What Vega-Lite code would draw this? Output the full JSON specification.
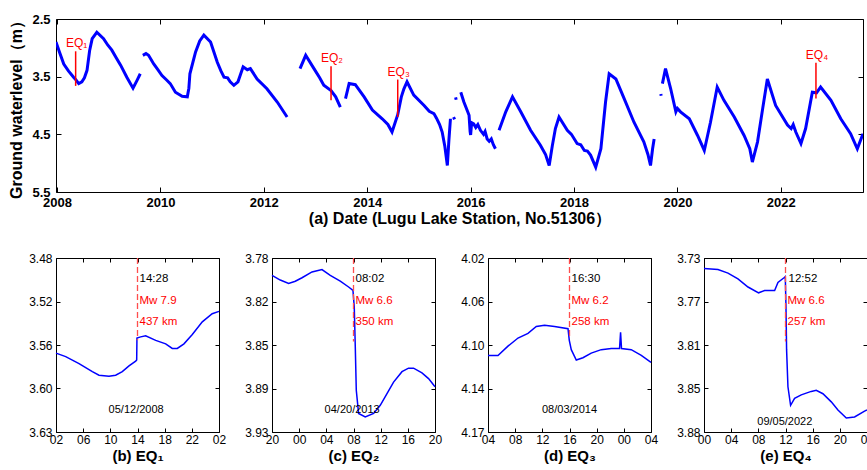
{
  "$schema": "https://vega.github.io/schema/vega-lite/v6.json",
  "padding": {"left": 6, "top": 12, "right": 1, "bottom": 0},
  "config": {
    "font": "Liberation Sans",
    "view": {"stroke": "black", "strokeWidth": 1},
    "axis": {"domain": false, "grid": false, "tickColor": "black", "labelColor": "black", "titleColor": "black", "labelFlush": false, "labelOverlap": false}
  },
  "datasets": {
    "main": [
      {"t":2007.98,"lev":2.90,"seg":1},{"t":2008.05,"lev":3.08,"seg":1},{"t":2008.13,"lev":3.28,"seg":1},{"t":2008.22,"lev":3.40,"seg":1},{"t":2008.32,"lev":3.51,"seg":1},{"t":2008.36,"lev":3.55,"seg":1},{"t":2008.42,"lev":3.62,"seg":1},{"t":2008.48,"lev":3.59,"seg":1},{"t":2008.53,"lev":3.52,"seg":1},{"t":2008.58,"lev":3.39,"seg":1},{"t":2008.63,"lev":3.05,"seg":1},{"t":2008.68,"lev":2.84,"seg":1},{"t":2008.77,"lev":2.73,"seg":1},{"t":2008.90,"lev":2.84,"seg":1},{"t":2008.98,"lev":2.95,"seg":1},{"t":2009.06,"lev":3.04,"seg":1},{"t":2009.15,"lev":3.18,"seg":1},{"t":2009.23,"lev":3.30,"seg":1},{"t":2009.35,"lev":3.51,"seg":1},{"t":2009.47,"lev":3.70,"seg":1},{"t":2009.55,"lev":3.56,"seg":1},{"t":2009.61,"lev":3.45,"seg":1},
      {"t":2009.66,"lev":3.13,"seg":2},{"t":2009.72,"lev":3.10,"seg":2},{"t":2009.77,"lev":3.13,"seg":2},{"t":2009.87,"lev":3.28,"seg":2},{"t":2009.95,"lev":3.38,"seg":2},{"t":2010.03,"lev":3.48,"seg":2},{"t":2010.11,"lev":3.55,"seg":2},{"t":2010.19,"lev":3.62,"seg":2},{"t":2010.29,"lev":3.77,"seg":2},{"t":2010.42,"lev":3.84,"seg":2},{"t":2010.52,"lev":3.85,"seg":2},{"t":2010.55,"lev":3.70,"seg":2},{"t":2010.57,"lev":3.45,"seg":2},{"t":2010.68,"lev":3.07,"seg":2},{"t":2010.76,"lev":2.88,"seg":2},{"t":2010.84,"lev":2.78,"seg":2},{"t":2010.97,"lev":2.90,"seg":2},{"t":2011.10,"lev":3.25,"seg":2},{"t":2011.17,"lev":3.40,"seg":2},{"t":2011.23,"lev":3.51,"seg":2},{"t":2011.30,"lev":3.52,"seg":2},{"t":2011.35,"lev":3.59,"seg":2},{"t":2011.42,"lev":3.65,"seg":2},{"t":2011.50,"lev":3.59,"seg":2},{"t":2011.60,"lev":3.33,"seg":2},{"t":2011.68,"lev":3.38,"seg":2},{"t":2011.74,"lev":3.36,"seg":2},{"t":2011.87,"lev":3.54,"seg":2},{"t":2012.06,"lev":3.71,"seg":2},{"t":2012.26,"lev":3.94,"seg":2},{"t":2012.45,"lev":4.20,"seg":2},
      {"t":2012.70,"lev":3.36,"seg":3},{"t":2012.81,"lev":3.13,"seg":3},{"t":2012.97,"lev":3.36,"seg":3},{"t":2013.08,"lev":3.52,"seg":3},{"t":2013.16,"lev":3.65,"seg":3},{"t":2013.30,"lev":3.74,"seg":3},{"t":2013.39,"lev":3.85,"seg":3},{"t":2013.48,"lev":4.03,"seg":3},
      {"t":2013.58,"lev":3.88,"seg":4},{"t":2013.65,"lev":3.62,"seg":4},{"t":2013.77,"lev":3.64,"seg":4},{"t":2013.94,"lev":3.85,"seg":4},{"t":2014.10,"lev":4.08,"seg":4},{"t":2014.29,"lev":4.23,"seg":4},{"t":2014.40,"lev":4.33,"seg":4},{"t":2014.48,"lev":4.46,"seg":4},{"t":2014.59,"lev":4.16,"seg":4},{"t":2014.66,"lev":3.85,"seg":4},{"t":2014.71,"lev":3.71,"seg":4},{"t":2014.77,"lev":3.59,"seg":4},{"t":2014.90,"lev":3.82,"seg":4},{"t":2015.10,"lev":4.00,"seg":4},{"t":2015.20,"lev":4.10,"seg":4},{"t":2015.29,"lev":4.14,"seg":4},{"t":2015.34,"lev":4.22,"seg":4},{"t":2015.40,"lev":4.33,"seg":4},{"t":2015.45,"lev":4.46,"seg":4},{"t":2015.50,"lev":4.70,"seg":4},{"t":2015.55,"lev":5.04,"seg":4},{"t":2015.58,"lev":4.60,"seg":4},{"t":2015.61,"lev":4.23,"seg":4},
      {"t":2015.67,"lev":4.20,"seg":5},{"t":2015.69,"lev":4.24,"seg":5},
      {"t":2015.71,"lev":3.86,"seg":6},{"t":2015.72,"lev":3.90,"seg":6},
      {"t":2015.81,"lev":3.77,"seg":7},{"t":2015.87,"lev":3.94,"seg":7},{"t":2015.94,"lev":4.10,"seg":7},{"t":2015.97,"lev":4.17,"seg":7},{"t":2015.99,"lev":4.45,"seg":7},{"t":2016.00,"lev":4.51,"seg":7},{"t":2016.02,"lev":4.30,"seg":7},{"t":2016.06,"lev":4.32,"seg":7},{"t":2016.10,"lev":4.38,"seg":7},{"t":2016.14,"lev":4.33,"seg":7},{"t":2016.19,"lev":4.43,"seg":7},{"t":2016.25,"lev":4.50,"seg":7},{"t":2016.28,"lev":4.45,"seg":7},{"t":2016.32,"lev":4.58,"seg":7},{"t":2016.36,"lev":4.62,"seg":7},{"t":2016.40,"lev":4.58,"seg":7},{"t":2016.44,"lev":4.68,"seg":7},{"t":2016.48,"lev":4.75,"seg":7},
      {"t":2016.55,"lev":4.43,"seg":8},{"t":2016.68,"lev":4.11,"seg":8},{"t":2016.81,"lev":3.85,"seg":8},{"t":2016.97,"lev":4.11,"seg":8},{"t":2017.16,"lev":4.43,"seg":8},{"t":2017.35,"lev":4.69,"seg":8},{"t":2017.45,"lev":4.85,"seg":8},{"t":2017.52,"lev":5.04,"seg":8},{"t":2017.58,"lev":4.70,"seg":8},{"t":2017.64,"lev":4.40,"seg":8},{"t":2017.71,"lev":4.20,"seg":8},{"t":2017.87,"lev":4.43,"seg":8},{"t":2017.95,"lev":4.50,"seg":8},{"t":2018.06,"lev":4.66,"seg":8},{"t":2018.13,"lev":4.68,"seg":8},{"t":2018.20,"lev":4.78,"seg":8},{"t":2018.26,"lev":4.79,"seg":8},{"t":2018.32,"lev":4.86,"seg":8},{"t":2018.42,"lev":5.07,"seg":8},{"t":2018.52,"lev":4.75,"seg":8},{"t":2018.61,"lev":3.94,"seg":8},{"t":2018.68,"lev":3.45,"seg":8},{"t":2018.81,"lev":3.54,"seg":8},{"t":2018.97,"lev":3.88,"seg":8},{"t":2019.16,"lev":4.29,"seg":8},{"t":2019.35,"lev":4.63,"seg":8},{"t":2019.43,"lev":4.85,"seg":8},{"t":2019.48,"lev":5.04,"seg":8},{"t":2019.52,"lev":4.75,"seg":8},{"t":2019.55,"lev":4.58,"seg":8},
      {"t":2019.68,"lev":3.80,"seg":9},{"t":2019.685,"lev":3.83,"seg":9},
      {"t":2019.71,"lev":3.62,"seg":10},{"t":2019.77,"lev":3.36,"seg":10},{"t":2019.87,"lev":3.71,"seg":10},{"t":2019.97,"lev":4.11,"seg":10},{"t":2020.00,"lev":4.05,"seg":10},{"t":2020.06,"lev":4.11,"seg":10},{"t":2020.23,"lev":4.23,"seg":10},{"t":2020.39,"lev":4.52,"seg":10},{"t":2020.52,"lev":4.78,"seg":10},{"t":2020.64,"lev":4.29,"seg":10},{"t":2020.77,"lev":3.68,"seg":10},{"t":2020.90,"lev":3.91,"seg":10},{"t":2021.10,"lev":4.20,"seg":10},{"t":2021.29,"lev":4.52,"seg":10},{"t":2021.40,"lev":4.75,"seg":10},{"t":2021.45,"lev":4.98,"seg":10},{"t":2021.55,"lev":4.63,"seg":10},{"t":2021.65,"lev":4.05,"seg":10},{"t":2021.74,"lev":3.54,"seg":10},{"t":2021.90,"lev":4.00,"seg":10},{"t":2022.13,"lev":4.34,"seg":10},{"t":2022.20,"lev":4.40,"seg":10},{"t":2022.24,"lev":4.33,"seg":10},{"t":2022.29,"lev":4.46,"seg":10},{"t":2022.39,"lev":4.66,"seg":10},{"t":2022.48,"lev":4.40,"seg":10},{"t":2022.61,"lev":3.77,"seg":10},{"t":2022.69,"lev":3.78,"seg":10},{"t":2022.77,"lev":3.68,"seg":10},{"t":2022.97,"lev":3.91,"seg":10},{"t":2023.16,"lev":4.23,"seg":10},{"t":2023.35,"lev":4.49,"seg":10},{"t":2023.48,"lev":4.75,"seg":10},{"t":2023.59,"lev":4.49,"seg":10}
    ],
    "eqTop": [
      {"t":2008.36,"top":3.06,"bot":3.66,"lab":"EQ₁"},
      {"t":2013.30,"top":3.32,"bot":3.91,"lab":"EQ₂"},
      {"t":2014.59,"top":3.55,"bot":4.20,"lab":"EQ₃"},
      {"t":2022.68,"top":3.26,"bot":3.88,"lab":"EQ₄"}
    ],
    "zoom": [
      {"p":"b","h":0,"v":3.562},{"p":"b","h":1.43,"v":3.565},{"p":"b","h":3.39,"v":3.571},{"p":"b","h":5.35,"v":3.578},{"p":"b","h":6.33,"v":3.581},{"p":"b","h":7.8,"v":3.582},{"p":"b","h":8.78,"v":3.581},{"p":"b","h":9.76,"v":3.578},{"p":"b","h":10.75,"v":3.573},{"p":"b","h":11.73,"v":3.569},{"p":"b","h":11.88,"v":3.568},{"p":"b","h":11.92,"v":3.549},{"p":"b","h":12.47,"v":3.548},{"p":"b","h":13.2,"v":3.547},{"p":"b","h":14.68,"v":3.551},{"p":"b","h":16.15,"v":3.554},{"p":"b","h":17.12,"v":3.558},{"p":"b","h":17.86,"v":3.558},{"p":"b","h":18.84,"v":3.554},{"p":"b","h":20.07,"v":3.546},{"p":"b","h":21.54,"v":3.535},{"p":"b","h":23.0,"v":3.528},{"p":"b","h":24,"v":3.526},
      {"p":"c","h":0,"v":3.795},{"p":"c","h":1.22,"v":3.799},{"p":"c","h":2.45,"v":3.802},{"p":"c","h":3.43,"v":3.8},{"p":"c","h":4.42,"v":3.797},{"p":"c","h":5.89,"v":3.792},{"p":"c","h":7.36,"v":3.79},{"p":"c","h":8.58,"v":3.795},{"p":"c","h":10.05,"v":3.8},{"p":"c","h":11.28,"v":3.805},{"p":"c","h":11.92,"v":3.808},{"p":"c","h":12.11,"v":3.822},{"p":"c","h":12.26,"v":3.856},{"p":"c","h":12.41,"v":3.894},{"p":"c","h":12.75,"v":3.914},{"p":"c","h":13.73,"v":3.917},{"p":"c","h":14.96,"v":3.914},{"p":"c","h":15.94,"v":3.907},{"p":"c","h":16.93,"v":3.897},{"p":"c","h":17.9,"v":3.887},{"p":"c","h":19.14,"v":3.878},{"p":"c","h":20.1,"v":3.875},{"p":"c","h":20.84,"v":3.875},{"p":"c","h":22.08,"v":3.879},{"p":"c","h":23.05,"v":3.884},{"p":"c","h":24,"v":3.891},
      {"p":"d","h":0,"v":4.104},{"p":"d","h":1.47,"v":4.104},{"p":"d","h":2.94,"v":4.096},{"p":"d","h":4.42,"v":4.089},{"p":"d","h":5.89,"v":4.085},{"p":"d","h":7.11,"v":4.079},{"p":"d","h":8.33,"v":4.078},{"p":"d","h":9.8,"v":4.079},{"p":"d","h":11.78,"v":4.081},{"p":"d","h":11.97,"v":4.091},{"p":"d","h":12.26,"v":4.099},{"p":"d","h":13.0,"v":4.108},{"p":"d","h":13.98,"v":4.106},{"p":"d","h":15.2,"v":4.102},{"p":"d","h":16.67,"v":4.099},{"p":"d","h":18.15,"v":4.098},{"p":"d","h":19.37,"v":4.098},{"p":"d","h":19.52,"v":4.084},{"p":"d","h":19.66,"v":4.098},{"p":"d","h":21.09,"v":4.099},{"p":"d","h":22.57,"v":4.104},{"p":"d","h":24,"v":4.11},
      {"p":"e","h":0,"v":3.739},{"p":"e","h":2.06,"v":3.74},{"p":"e","h":3.53,"v":3.743},{"p":"e","h":5.0,"v":3.748},{"p":"e","h":6.48,"v":3.755},{"p":"e","h":8.04,"v":3.76},{"p":"e","h":8.92,"v":3.758},{"p":"e","h":10.4,"v":3.758},{"p":"e","h":10.89,"v":3.751},{"p":"e","h":11.78,"v":3.747},{"p":"e","h":11.97,"v":3.746},{"p":"e","h":12.07,"v":3.772},{"p":"e","h":12.16,"v":3.809},{"p":"e","h":12.36,"v":3.841},{"p":"e","h":12.75,"v":3.857},{"p":"e","h":13.34,"v":3.851},{"p":"e","h":14.32,"v":3.848},{"p":"e","h":15.79,"v":3.845},{"p":"e","h":16.53,"v":3.844},{"p":"e","h":17.51,"v":3.847},{"p":"e","h":18.74,"v":3.854},{"p":"e","h":19.72,"v":3.861},{"p":"e","h":20.95,"v":3.868},{"p":"e","h":22.17,"v":3.867},{"p":"e","h":23.64,"v":3.862},{"p":"e","h":24,"v":3.861}
    ],
    "dash": [
      {"p":"b","h":12,"v1":3.48,"v2":3.551},
      {"p":"c","h":12,"v1":3.78,"v2":3.852},
      {"p":"d","h":12,"v1":4.02,"v2":4.088},
      {"p":"e","h":12,"v1":3.73,"v2":3.802}
    ],
    "ann": [
      {"p":"b","kind":"time","h":12.3,"v":3.498,"txt":"14:28"},
      {"p":"b","kind":"mag","h":12.3,"v":3.517,"txt":"Mw 7.9"},
      {"p":"b","kind":"dist","h":12.3,"v":3.535,"txt":"437 km"},
      {"p":"c","kind":"time","h":12.3,"v":3.798,"txt":"08:02"},
      {"p":"c","kind":"mag","h":12.3,"v":3.817,"txt":"Mw 6.6"},
      {"p":"c","kind":"dist","h":12.3,"v":3.835,"txt":"350 km"},
      {"p":"d","kind":"time","h":12.3,"v":4.038,"txt":"16:30"},
      {"p":"d","kind":"mag","h":12.3,"v":4.057,"txt":"Mw 6.2"},
      {"p":"d","kind":"dist","h":12.3,"v":4.075,"txt":"258 km"},
      {"p":"e","kind":"time","h":12.45,"v":3.748,"txt":"12:52"},
      {"p":"e","kind":"mag","h":12.3,"v":3.767,"txt":"Mw 6.6"},
      {"p":"e","kind":"dist","h":12.3,"v":3.785,"txt":"257 km"}
    ],
    "dates": [
      {"p":"b","h":11.8,"v":3.611,"txt":"05/12/2008"},
      {"p":"c","h":11.8,"v":3.911,"txt":"04/20/2013"},
      {"p":"d","h":12.0,"v":4.151,"txt":"08/03/2014"},
      {"p":"e","h":11.9,"v":3.871,"txt":"09/05/2022"}
    ]
  },
  "vconcat": [
    {
      "width": 807,
      "height": 173,
      "layer": [
        {
          "data": {"name": "main"},
          "mark": {"type": "line", "color": "#0000ff", "strokeWidth": 3, "clip": true},
          "encoding": {
            "x": {"field": "t", "type": "quantitative", "scale": {"domain": [2007.98, 2023.59], "nice": false, "zero": false},
                  "axis": {"orient": "bottom", "values": [2008,2010,2012,2014,2016,2018,2020,2022], "format": "d", "tickSize": -5, "labelPadding": 9, "labelFontSize": 13, "labelFontWeight": "bold", "title": "(a) Date (Lugu Lake Station, No.51306）", "titleFontSize": 16, "titleFontWeight": "bold", "titlePadding": 1}},
            "y": {"field": "lev", "type": "quantitative", "scale": {"domain": [2.5, 5.5], "reverse": true, "nice": false, "zero": false},
                  "axis": {"orient": "left", "values": [2.5,3.5,4.5,5.5], "format": ".1f", "tickSize": -5, "labelPadding": 11, "labelFontSize": 13, "labelFontWeight": "bold", "title": "Ground waterlevel（m）", "titleFontSize": 16, "titleFontWeight": "bold", "titlePadding": 7}},
            "detail": {"field": "seg", "type": "nominal"}
          }
        },
        {
          "data": {"name": "eqTop"},
          "mark": {"type": "rule", "color": "#ff0000", "strokeWidth": 1.5},
          "encoding": {
            "x": {"field": "t", "type": "quantitative", "axis": {"orient": "top", "values": [2008,2010,2012,2014,2016,2018,2020,2022], "labels": false, "tickSize": -5, "title": null}},
            "y": {"field": "top", "type": "quantitative", "axis": {"orient": "right", "values": [2.5,3.5,4.5,5.5], "labels": false, "tickSize": -5, "title": null}},
            "y2": {"field": "bot"}
          }
        },
        {
          "data": {"name": "eqTop"},
          "mark": {"type": "text", "color": "#ff0000", "fontSize": 12, "baseline": "bottom", "align": "center", "dy": -1, "dx": 1},
          "encoding": {
            "x": {"field": "t", "type": "quantitative", "axis": null},
            "y": {"field": "top", "type": "quantitative", "axis": null},
            "text": {"field": "lab"}
          }
        }
      ],
      "resolve": {"axis": {"x": "independent", "y": "independent"}}
    },
    {
      "spacing": 17,
      "hconcat": [
        {
          "width": 163, "height": 174,
          "layer": [
            {"data": {"name": "zoom"}, "transform": [{"filter": "datum.p === 'b'"}],
             "mark": {"type": "line", "color": "#0000ff", "strokeWidth": 1.5},
             "encoding": {
               "x": {"field": "h", "type": "quantitative", "scale": {"domain": [0, 24], "nice": false},
                     "axis": {"orient": "bottom", "values": [0,4,8,12,16,20,24], "labelExpr": "((datum.value+2)%24 < 10 ? '0' : '') + ((datum.value+2)%24)", "tickSize": -4, "labelPadding": 6, "labelFontSize": 12, "title": "(b) EQ₁", "titleFontSize": 15, "titleFontWeight": "bold", "titlePadding": 3}},
               "y": {"field": "v", "type": "quantitative", "scale": {"domain": [3.48, 3.63], "reverse": true, "nice": false, "zero": false},
                     "axis": {"orient": "left", "values": [3.48, 3.5175, 3.555, 3.5925, 3.63], "labelExpr": "datum.value < 3.5 ? '3.48' : datum.value < 3.53 ? '3.52' : datum.value < 3.57 ? '3.56' : datum.value < 3.61 ? '3.60' : '3.63'", "tickSize": -4, "labelPadding": 8, "labelFontSize": 12, "title": ".", "titleColor": "transparent", "titleFontSize": 10, "titlePadding": 12}}
             }},
            {"data": {"name": "dash"}, "transform": [{"filter": "datum.p === 'b'"}],
             "mark": {"type": "rule", "color": "#ff4d4d", "strokeDash": [6, 3], "strokeWidth": 1.3},
             "encoding": {
               "x": {"field": "h", "type": "quantitative", "axis": {"orient": "top", "values": [0,4,8,12,16,20,24], "labels": false, "tickSize": -4, "title": null}},
               "y": {"field": "v1", "type": "quantitative", "axis": {"orient": "right", "values": [3.48, 3.5175, 3.555, 3.5925, 3.63], "labels": false, "tickSize": -4, "title": null}},
               "y2": {"field": "v2"}
             }},
            {"data": {"name": "ann"}, "transform": [{"filter": "datum.p === 'b'"}],
             "mark": {"type": "text", "align": "left", "baseline": "middle", "fontSize": 11.5},
             "encoding": {
               "x": {"field": "h", "type": "quantitative", "axis": null},
               "y": {"field": "v", "type": "quantitative", "axis": null},
               "text": {"field": "txt"},
               "color": {"field": "kind", "type": "nominal", "scale": {"domain": ["time", "mag", "dist"], "range": ["#000000", "#ff0000", "#ff0000"]}, "legend": null}
             }},
            {"data": {"name": "dates"}, "transform": [{"filter": "datum.p === 'b'"}],
             "mark": {"type": "text", "align": "center", "baseline": "middle", "fontSize": 11, "color": "black"},
             "encoding": {
               "x": {"field": "h", "type": "quantitative", "axis": null},
               "y": {"field": "v", "type": "quantitative", "axis": null},
               "text": {"field": "txt"}
             }}
          ],
          "resolve": {"axis": {"x": "independent", "y": "independent"}}
        },
        {
          "width": 163, "height": 174,
          "layer": [
            {"data": {"name": "zoom"}, "transform": [{"filter": "datum.p === 'c'"}],
             "mark": {"type": "line", "color": "#0000ff", "strokeWidth": 1.5},
             "encoding": {
               "x": {"field": "h", "type": "quantitative", "scale": {"domain": [0, 24], "nice": false},
                     "axis": {"orient": "bottom", "values": [0,4,8,12,16,20,24], "labelExpr": "((datum.value+20)%24 < 10 ? '0' : '') + ((datum.value+20)%24)", "tickSize": -4, "labelPadding": 6, "labelFontSize": 12, "title": "(c) EQ₂", "titleFontSize": 15, "titleFontWeight": "bold", "titlePadding": 3}},
               "y": {"field": "v", "type": "quantitative", "scale": {"domain": [3.78, 3.93], "reverse": true, "nice": false, "zero": false},
                     "axis": {"orient": "left", "values": [3.78, 3.8175, 3.855, 3.8925, 3.93], "labelExpr": "datum.value < 3.8 ? '3.78' : datum.value < 3.83 ? '3.82' : datum.value < 3.87 ? '3.85' : datum.value < 3.91 ? '3.89' : '3.93'", "tickSize": -4, "labelPadding": 8, "labelFontSize": 12, "title": null}}
             }},
            {"data": {"name": "dash"}, "transform": [{"filter": "datum.p === 'c'"}],
             "mark": {"type": "rule", "color": "#ff4d4d", "strokeDash": [6, 3], "strokeWidth": 1.3},
             "encoding": {
               "x": {"field": "h", "type": "quantitative", "axis": {"orient": "top", "values": [0,4,8,12,16,20,24], "labels": false, "tickSize": -4, "title": null}},
               "y": {"field": "v1", "type": "quantitative", "axis": {"orient": "right", "values": [3.78, 3.8175, 3.855, 3.8925, 3.93], "labels": false, "tickSize": -4, "title": null}},
               "y2": {"field": "v2"}
             }},
            {"data": {"name": "ann"}, "transform": [{"filter": "datum.p === 'c'"}],
             "mark": {"type": "text", "align": "left", "baseline": "middle", "fontSize": 11.5},
             "encoding": {
               "x": {"field": "h", "type": "quantitative", "axis": null},
               "y": {"field": "v", "type": "quantitative", "axis": null},
               "text": {"field": "txt"},
               "color": {"field": "kind", "type": "nominal", "scale": {"domain": ["time", "mag", "dist"], "range": ["#000000", "#ff0000", "#ff0000"]}, "legend": null}
             }},
            {"data": {"name": "dates"}, "transform": [{"filter": "datum.p === 'c'"}],
             "mark": {"type": "text", "align": "center", "baseline": "middle", "fontSize": 11, "color": "black"},
             "encoding": {
               "x": {"field": "h", "type": "quantitative", "axis": null},
               "y": {"field": "v", "type": "quantitative", "axis": null},
               "text": {"field": "txt"}
             }}
          ],
          "resolve": {"axis": {"x": "independent", "y": "independent"}}
        },
        {
          "width": 163, "height": 174,
          "layer": [
            {"data": {"name": "zoom"}, "transform": [{"filter": "datum.p === 'd'"}],
             "mark": {"type": "line", "color": "#0000ff", "strokeWidth": 1.5},
             "encoding": {
               "x": {"field": "h", "type": "quantitative", "scale": {"domain": [0, 24], "nice": false},
                     "axis": {"orient": "bottom", "values": [0,4,8,12,16,20,24], "labelExpr": "((datum.value+4)%24 < 10 ? '0' : '') + ((datum.value+4)%24)", "tickSize": -4, "labelPadding": 6, "labelFontSize": 12, "title": "(d) EQ₃", "titleFontSize": 15, "titleFontWeight": "bold", "titlePadding": 3}},
               "y": {"field": "v", "type": "quantitative", "scale": {"domain": [4.02, 4.17], "reverse": true, "nice": false, "zero": false},
                     "axis": {"orient": "left", "values": [4.02, 4.0575, 4.095, 4.1325, 4.17], "labelExpr": "datum.value < 4.04 ? '4.02' : datum.value < 4.07 ? '4.06' : datum.value < 4.11 ? '4.10' : datum.value < 4.15 ? '4.14' : '4.17'", "tickSize": -4, "labelPadding": 8, "labelFontSize": 12, "title": null}}
             }},
            {"data": {"name": "dash"}, "transform": [{"filter": "datum.p === 'd'"}],
             "mark": {"type": "rule", "color": "#ff4d4d", "strokeDash": [6, 3], "strokeWidth": 1.3},
             "encoding": {
               "x": {"field": "h", "type": "quantitative", "axis": {"orient": "top", "values": [0,4,8,12,16,20,24], "labels": false, "tickSize": -4, "title": null}},
               "y": {"field": "v1", "type": "quantitative", "axis": {"orient": "right", "values": [4.02, 4.0575, 4.095, 4.1325, 4.17], "labels": false, "tickSize": -4, "title": null}},
               "y2": {"field": "v2"}
             }},
            {"data": {"name": "ann"}, "transform": [{"filter": "datum.p === 'd'"}],
             "mark": {"type": "text", "align": "left", "baseline": "middle", "fontSize": 11.5},
             "encoding": {
               "x": {"field": "h", "type": "quantitative", "axis": null},
               "y": {"field": "v", "type": "quantitative", "axis": null},
               "text": {"field": "txt"},
               "color": {"field": "kind", "type": "nominal", "scale": {"domain": ["time", "mag", "dist"], "range": ["#000000", "#ff0000", "#ff0000"]}, "legend": null}
             }},
            {"data": {"name": "dates"}, "transform": [{"filter": "datum.p === 'd'"}],
             "mark": {"type": "text", "align": "center", "baseline": "middle", "fontSize": 11, "color": "black"},
             "encoding": {
               "x": {"field": "h", "type": "quantitative", "axis": null},
               "y": {"field": "v", "type": "quantitative", "axis": null},
               "text": {"field": "txt"}
             }}
          ],
          "resolve": {"axis": {"x": "independent", "y": "independent"}}
        },
        {
          "width": 163, "height": 174,
          "layer": [
            {"data": {"name": "zoom"}, "transform": [{"filter": "datum.p === 'e'"}],
             "mark": {"type": "line", "color": "#0000ff", "strokeWidth": 1.5},
             "encoding": {
               "x": {"field": "h", "type": "quantitative", "scale": {"domain": [0, 24], "nice": false},
                     "axis": {"orient": "bottom", "values": [0,4,8,12,16,20,24], "labelExpr": "(datum.value%24 < 10 ? '0' : '') + (datum.value%24)", "tickSize": -4, "labelPadding": 6, "labelFontSize": 12, "title": "(e) EQ₄", "titleFontSize": 15, "titleFontWeight": "bold", "titlePadding": 3}},
               "y": {"field": "v", "type": "quantitative", "scale": {"domain": [3.73, 3.88], "reverse": true, "nice": false, "zero": false},
                     "axis": {"orient": "left", "values": [3.73, 3.7675, 3.805, 3.8425, 3.88], "labelExpr": "datum.value < 3.75 ? '3.73' : datum.value < 3.78 ? '3.77' : datum.value < 3.82 ? '3.81' : datum.value < 3.86 ? '3.85' : '3.88'", "tickSize": -4, "labelPadding": 8, "labelFontSize": 12, "title": null}}
             }},
            {"data": {"name": "dash"}, "transform": [{"filter": "datum.p === 'e'"}],
             "mark": {"type": "rule", "color": "#ff4d4d", "strokeDash": [6, 3], "strokeWidth": 1.3},
             "encoding": {
               "x": {"field": "h", "type": "quantitative", "axis": {"orient": "top", "values": [0,4,8,12,16,20,24], "labels": false, "tickSize": -4, "title": null}},
               "y": {"field": "v1", "type": "quantitative", "axis": {"orient": "right", "values": [3.73, 3.7675, 3.805, 3.8425, 3.88], "labels": false, "tickSize": -4, "title": null}},
               "y2": {"field": "v2"}
             }},
            {"data": {"name": "ann"}, "transform": [{"filter": "datum.p === 'e'"}],
             "mark": {"type": "text", "align": "left", "baseline": "middle", "fontSize": 11.5},
             "encoding": {
               "x": {"field": "h", "type": "quantitative", "axis": null},
               "y": {"field": "v", "type": "quantitative", "axis": null},
               "text": {"field": "txt"},
               "color": {"field": "kind", "type": "nominal", "scale": {"domain": ["time", "mag", "dist"], "range": ["#000000", "#ff0000", "#ff0000"]}, "legend": null}
             }},
            {"data": {"name": "dates"}, "transform": [{"filter": "datum.p === 'e'"}],
             "mark": {"type": "text", "align": "center", "baseline": "middle", "fontSize": 11, "color": "black"},
             "encoding": {
               "x": {"field": "h", "type": "quantitative", "axis": null},
               "y": {"field": "v", "type": "quantitative", "axis": null},
               "text": {"field": "txt"}
             }}
          ],
          "resolve": {"axis": {"x": "independent", "y": "independent"}}
        }
      ]
    }
  ],
  "spacing": 24,
  "align": "none"
}
